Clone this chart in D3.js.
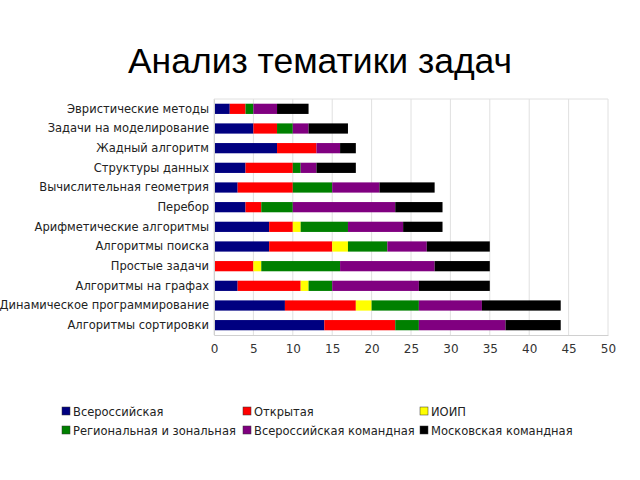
<!DOCTYPE html>
<html><head><meta charset="utf-8">
<script src="https://cdn.jsdelivr.net/npm/d3@7/dist/d3.min.js"></script>
<style>body{margin:0;background:#fff}svg{display:block}</style>
</head><body>
<script>
const categories = ["Эвристические методы","Задачи на моделирование","Жадный алгоритм","Структуры данных","Вычислительная геометрия","Перебор","Арифметические алгоритмы","Алгоритмы поиска","Простые задачи","Алгоритмы на графах","Динамическое программирование","Алгоритмы сортировки"];
const seriesNames = ["Всероссийская","Открытая","ИОИП","Региональная и зональная","Всероссийская командная","Московская командная"];
const vseross      = [2,5,8,4,3,4,7,7,0,3,9,14];
const otkrytaya    = [2,3,5,6,7,2,3,8,5,8,9,9];
const ioip         = [0,0,0,0,0,0,1,2,1,1,2,0];
const regional     = [1,2,0,1,5,4,6,5,10,3,6,3];
const vsekomand    = [3,2,3,2,6,13,7,5,12,11,8,11];
const moskomand    = [4,5,2,5,7,6,5,8,7,9,10,7];
const xTicks = [0,5,10,15,20,25,30,35,40,45,50];
const colors = ["#000080","#ff0000","#ffff00","#008000","#800080","#000000"];

const allSeries = [vseross, otkrytaya, ioip, regional, vsekomand, moskomand];
const rows = categories.map((c,i)=>{const o={cat:c}; seriesNames.forEach((s,j)=>o[s]=allSeries[j][i]); return o;});
const stack = d3.stack().keys(seriesNames)(rows);

const W=640,H=480;
const svg=d3.select("body").append("svg").attr("width",W).attr("height",H);
const m={l:214,r:32,t:99,b:145};
const x=d3.scaleLinear().domain([0,50]).range([m.l,W-m.r]);
const y=d3.scaleBand().domain(categories).range([m.t,H-m.b]).paddingInner(0.48).paddingOuter(0.24);

svg.append("text").attr("x",320).attr("y",73).attr("text-anchor","middle")
  .attr("font-family","Liberation Sans, Arial, sans-serif").attr("font-size",35.5).attr("fill","#000")
  .text("Анализ тематики задач");

// grid
svg.append("g").selectAll("line").data(xTicks).join("line")
  .attr("x1",d=>x(d)).attr("x2",d=>x(d)).attr("y1",m.t).attr("y2",H-m.b)
  .attr("stroke","#e0e0e0").attr("stroke-width",1);
svg.append("line").attr("x1",m.l).attr("x2",W-m.r).attr("y1",m.t).attr("y2",m.t).attr("stroke","#e0e0e0");

// bars
svg.append("g").selectAll("g").data(stack).join("g").attr("fill",(d,i)=>colors[i])
  .selectAll("rect").data(d=>d).join("rect")
  .attr("x",d=>x(d[0])).attr("width",d=>x(d[1])-x(d[0]))
  .attr("y",d=>y(d.data.cat)).attr("height",y.bandwidth());

// x axis
const xa=svg.append("g").attr("transform",`translate(0,${H-m.b})`)
  .call(d3.axisBottom(x).tickValues(xTicks).tickSize(0).tickPadding(9));
xa.select(".domain").attr("stroke","#d0d0d0");
xa.selectAll("text").attr("font-family","DejaVu Sans, sans-serif").attr("font-size",12).attr("fill","#333");

// y axis
const ya=svg.append("g").attr("transform",`translate(${m.l},0)`)
  .call(d3.axisLeft(y).tickSize(0).tickPadding(5));
ya.select(".domain").attr("stroke","#d0d0d0");
ya.selectAll("text").attr("font-family","DejaVu Sans, sans-serif").attr("font-size",11.5).attr("fill","#222");

// legend
const lx=[62,243,420], ly=[411,430];
const lg=svg.append("g").selectAll("g").data(seriesNames).join("g")
  .attr("transform",(d,i)=>`translate(${lx[i%3]},${ly[Math.floor(i/3)]})`);
lg.append("rect").attr("x",0).attr("y",-4).attr("width",8).attr("height",8)
  .attr("fill",(d,i)=>colors[i]).attr("stroke","#333").attr("stroke-width",0.5);
lg.append("text").attr("x",11).attr("y",4.5).attr("font-family","DejaVu Sans, sans-serif")
  .attr("font-size",11.5).attr("fill","#222").text(d=>d);
</script>
</body></html>
